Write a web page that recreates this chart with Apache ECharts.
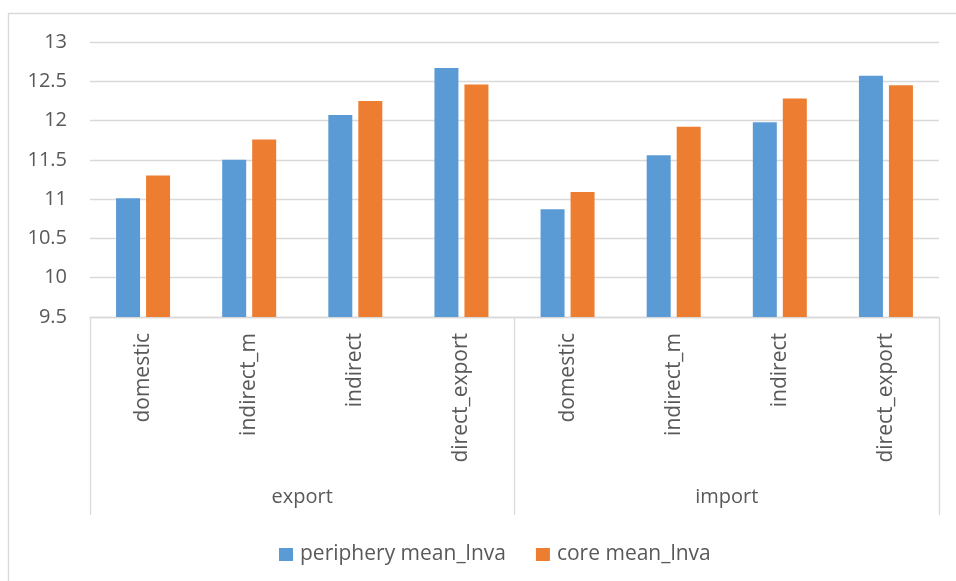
<!DOCTYPE html>
<html>
<head>
<meta charset="utf-8">
<script src="https://cdn.jsdelivr.net/npm/echarts@6/dist/echarts.min.js"></script>
<style>
  html, body { margin: 0; padding: 0; background: #fff; }
  #chart { width: 956px; height: 581px; }
</style>
</head>
<body>
<div id="chart"></div>
<script>
// Trade channels (inner axis level) and flow groups (outer axis level)
var categories = ['domestic', 'indirect_m', 'indirect', 'direct_export',
                  'domestic', 'indirect_m', 'indirect', 'direct_export'];
var groups = ['export', 'import'];

// Mean log value added by firm position
var peripheryMean = [11.01, 11.50, 12.07, 12.67, 10.87, 11.56, 11.98, 12.57];
var coreMean      = [11.30, 11.76, 12.25, 12.46, 11.09, 11.92, 12.28, 12.45];

var seriesNames = ['periphery mean_lnva', 'core mean_lnva'];

// Value axis range
var yMin = 9.5, yMax = 13, yStep = 0.5;

var FONT = '"Open Sans", "Liberation Sans", sans-serif';
var TEXT = '#595959';
var LINE = '#d9d9d9';

var chart = echarts.init(document.getElementById('chart'), null, { renderer: 'canvas' });

chart.setOption({
  animation: false,
  backgroundColor: '#ffffff',
  textStyle: { fontFamily: FONT },
  graphic: [{
    type: 'rect',
    shape: { x: 8.5, y: 13.5, width: 1200, height: 1000 },
    style: { fill: null, stroke: LINE, lineWidth: 1.3 },
    silent: true,
    z: -10
  }],
  grid: { left: 90, right: 17, top: 42, bottom: 264 },
  legend: {
    data: seriesNames,
    left: 274,
    top: 539,
    icon: 'rect',
    itemWidth: 14,
    itemHeight: 13,
    itemGap: 30,
    textStyle: { fontFamily: FONT, fontSize: 21, color: TEXT, padding: [0, 0, 0, 2] }
  },
  xAxis: [{
    type: 'category',
    data: categories,
    position: 'bottom',
    axisLine: { show: true, lineStyle: { color: LINE, width: 1.3 } },
    axisTick: { show: false },
    axisLabel: {
      rotate: 90,
      margin: 16,
      interval: 0,
      fontFamily: FONT,
      fontSize: 21,
      color: TEXT
    },
    splitLine: { show: false }
  }, {
    type: 'category',
    data: groups,
    position: 'bottom',
    axisLine: { show: false },
    axisTick: {
      show: true,
      length: 198,
      interval: 0,
      lineStyle: { color: LINE, width: 1.3 }
    },
    axisLabel: {
      margin: 170,
      interval: 0,
      fontFamily: FONT,
      fontSize: 20,
      color: TEXT
    },
    splitLine: { show: false }
  }],
  yAxis: {
    type: 'value',
    min: yMin,
    max: yMax,
    interval: yStep,
    axisLine: { show: false },
    axisTick: { show: false },
    axisLabel: {
      margin: 23,
      fontFamily: FONT,
      fontSize: 20,
      color: TEXT
    },
    splitLine: { show: true, lineStyle: { color: LINE, width: 1.3 } }
  },
  series: [{
    name: seriesNames[0],
    type: 'bar',
    xAxisIndex: 0,
    data: peripheryMean,
    barWidth: 24,
    barGap: '25%',
    itemStyle: { color: '#5B9BD5' }
  }, {
    name: seriesNames[1],
    type: 'bar',
    xAxisIndex: 0,
    data: coreMean,
    barWidth: 24,
    barGap: '25%',
    itemStyle: { color: '#ED7D31' }
  }]
});
</script>
</body>
</html>
